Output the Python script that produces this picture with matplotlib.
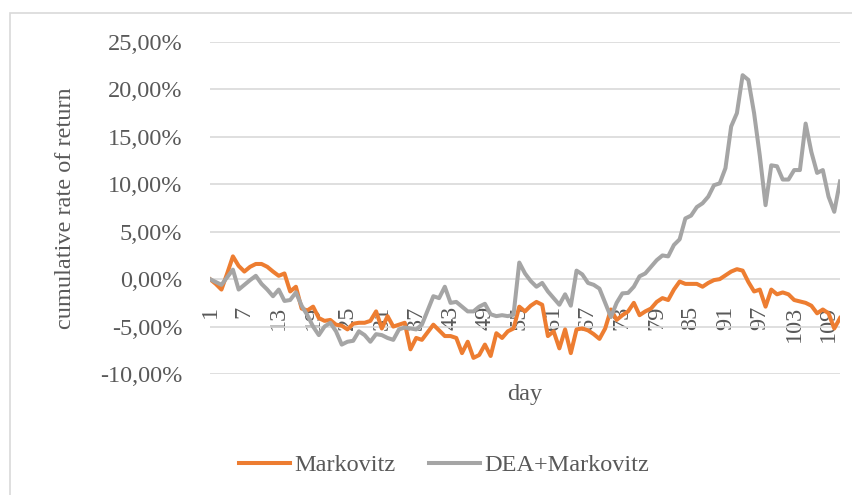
import numpy as np
import matplotlib
matplotlib.use("Agg")
import matplotlib.pyplot as plt
from matplotlib.patches import Rectangle
from matplotlib.ticker import FixedLocator, FuncFormatter


# =========================
# DATA (cumulative rate of return, %)
# =========================
DAYS = list(range(1, 112))

MARKOVITZ = [
    0.0, -0.5, -1.1, 0.6, 2.4, 1.4, 0.8, 1.3, 1.6, 1.6,
    1.3, 0.8, 0.35, 0.6, -1.3, -0.8, -3.1, -3.3, -2.9, -4.1,
    -4.4, -4.3, -4.8, -4.9, -5.3, -4.7, -4.6, -4.6, -4.4, -3.4,
    -5.2, -3.9, -5.0, -4.8, -4.6, -7.4, -6.2, -6.4, -5.6, -4.8,
    -5.4, -6.0, -6.0, -6.2, -7.8, -6.6, -8.3, -8.0, -6.9, -8.1,
    -5.7, -6.2, -5.5, -5.2, -2.9, -3.4, -2.8, -2.4, -2.7, -6.0,
    -5.5, -7.3, -5.3, -7.8, -5.3, -5.2, -5.4, -5.8, -6.3, -5.2,
    -3.2, -4.3, -3.8, -3.4, -2.5, -3.8, -3.4, -3.1, -2.4, -2.0,
    -2.2, -1.1, -0.25, -0.5, -0.5, -0.5, -0.8, -0.4, -0.1, 0.0,
    0.4, 0.8, 1.05, 0.9, -0.3, -1.3, -1.1, -2.9, -1.1, -1.6,
    -1.4, -1.6, -2.2, -2.35, -2.5, -2.8, -3.6, -3.2, -3.6, -5.2,
    -4.1,
]

DEA_MARKOVITZ = [
    0.0, -0.3, -0.6, 0.2, 1.0, -1.1, -0.6, -0.1, 0.35, -0.5,
    -1.1, -1.8, -1.1, -2.3, -2.2, -1.4, -2.8, -3.8, -5.0, -5.9,
    -5.0, -4.6, -5.5, -6.9, -6.6, -6.5, -5.5, -5.9, -6.6, -5.8,
    -5.9, -6.2, -6.4, -5.3, -5.1, -5.2, -5.3, -4.8, -3.3, -1.8,
    -2.0, -0.8, -2.5, -2.4, -2.9, -3.4, -3.4, -2.9, -2.6, -3.7,
    -3.9, -3.8, -3.9, -3.75, 1.75, 0.6, -0.2, -0.8, -0.4, -1.3,
    -2.0, -2.7, -1.6, -2.8, 0.9, 0.5, -0.4, -0.6, -1.0, -2.5,
    -4.0, -2.5, -1.5, -1.45, -0.8, 0.3, 0.6, 1.3, 2.0, 2.5,
    2.4, 3.6, 4.2, 6.4, 6.7, 7.6, 8.0, 8.7, 9.9, 10.1,
    11.7, 16.1, 17.5, 21.5, 21.0, 17.5, 13.0, 7.8, 12.0, 11.9,
    10.5, 10.5, 11.5, 11.5, 16.4, 13.4, 11.2, 11.5, 8.7, 7.1,
    10.3,
]

X_TICKS = list(range(1, 112, 6))
Y_TICKS = [-10, -5, 0, 5, 10, 15, 20, 25]

ORANGE = "#ED7D31"
GRAY = "#A5A5A5"
TEXT = "#595959"
GRID = "#D9D9D9"

plt.rcParams["font.family"] = ["Liberation Serif", "DejaVu Serif"]


# =========================
# PLOT
# =========================
fig = plt.figure(figsize=(8.53, 4.95), dpi=100)
ax = fig.add_axes([210 / 853, 1 - 374 / 495, 630 / 853, 332 / 495])

ax.plot(DAYS, MARKOVITZ, color=ORANGE, linewidth=2.9, label="Markovitz",
        solid_joinstyle="round")
ax.plot(DAYS, DEA_MARKOVITZ, color=GRAY, linewidth=2.9, label="DEA+Markovitz",
        solid_joinstyle="round")

ax.set_xlim(1, 111)
ax.set_ylim(-10, 25)

ax.yaxis.set_major_locator(FixedLocator(Y_TICKS))
ax.yaxis.set_major_formatter(
    FuncFormatter(lambda v, pos: f"{v:.2f}%".replace(".", ","))
)
ax.xaxis.set_major_locator(FixedLocator(X_TICKS))

# category axis crosses at 0
ax.spines["bottom"].set_position(("data", 0))
for side in ["top", "right", "left", "bottom"]:
    ax.spines[side].set_visible(False)

ax.grid(axis="y", color=GRID, linewidth=1.2)
ax.set_axisbelow(True)

ax.tick_params(axis="y", length=0, pad=20, labelsize=17.5, labelcolor=TEXT)
ax.tick_params(axis="x", length=0, pad=19, labelsize=17.5, labelcolor=TEXT,
               labelrotation=90)

ax.set_ylabel("cumulative rate of return", fontsize=17.5, color=TEXT)
ax.yaxis.set_label_coords(-0.213, 0.5)

ax.text(0.5, -0.03, "day", transform=ax.transAxes, ha="center", va="top",
        fontsize=17.5, color=TEXT)

fig.legend(
    loc="center",
    bbox_to_anchor=(444 / 853, 1 - 465 / 495),
    ncol=2,
    frameon=False,
    fontsize=17.5,
    labelcolor=TEXT,
    handlelength=2.1,
    handletextpad=0.15,
    columnspacing=1.4,
)

# chart area border
fig.patches.append(Rectangle((10 / 853, -0.1), 1.2, 1.1 - 13 / 495,
                             transform=fig.transFigure, fill=False,
                             edgecolor=GRID, linewidth=1.2))

fig.savefig("out.png", dpi=100)
plt.close(fig)
